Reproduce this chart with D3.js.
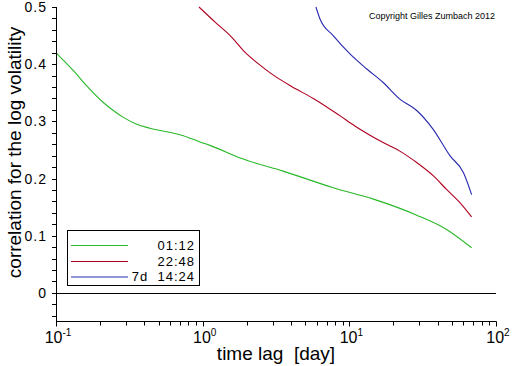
<!DOCTYPE html>
<html><head><meta charset="utf-8">
<script src="https://cdn.jsdelivr.net/npm/d3@7"></script>
<style>
html,body{margin:0;padding:0;background:#fff;}
svg{display:block;font-family:"Liberation Sans",Arial,sans-serif;}
</style></head>
<body>
<svg id="c" width="512" height="366"></svg>
<script>
// Data
const seriesNames = ["01:12", "22:48", "7d  14:24"];
const seriesColors = ["#28b828", "#b00020", "#2828b0"];

const greenLag  = [0.1, 0.131, 0.162, 0.21, 0.246, 0.288, 0.355, 0.437, 0.738, 0.96, 1.12, 1.89, 3.54, 7.76, 14.6, 28.8, 46, 68.2];
const greenCorr = [0.420, 0.389, 0.362, 0.333, 0.319, 0.307, 0.295, 0.288, 0.275, 0.264, 0.258, 0.234, 0.213, 0.184, 0.164, 0.136, 0.111, 0.079];

const redLag  = [0.944, 1.21, 1.58, 1.94, 2.39, 2.95, 4.04, 5.68, 8.6, 10.9, 17.0, 22.1, 28.8, 37.3, 46, 56.7, 68.2];
const redCorr = [0.500, 0.474, 0.447, 0.421, 0.401, 0.383, 0.361, 0.340, 0.310, 0.292, 0.263, 0.248, 0.228, 0.205, 0.181, 0.158, 0.133];

const blueLag  = [5.92, 6.31, 7.76, 10.1, 13.1, 17.0, 22.1, 28.8, 37.3, 48.5, 59.8, 68.2];
const blueCorr = [0.500, 0.479, 0.450, 0.418, 0.392, 0.368, 0.339, 0.319, 0.286, 0.240, 0.211, 0.172];

const yTickLabels = ["0", "0.1", "0.2", "0.3", "0.4", "0.5"];
const xTickExp = ["-1", "0", "1", "2"];

const svg = d3.select("#c");
const x = d3.scaleLog().domain([0.1, 100]).range([56, 496]);
const y = d3.scaleLinear().domain([-0.05, 0.5]).range([321.5, 7]);

const series = [
  {lag: greenLag, corr: greenCorr},
  {lag: redLag, corr: redCorr},
  {lag: blueLag, corr: blueCorr}
];

// zero line
svg.append("line").attr("x1", x(0.1)).attr("x2", x(100))
  .attr("y1", Math.round(y(0)) + 0.5).attr("y2", Math.round(y(0)) + 0.5)
  .attr("stroke", "#000").attr("stroke-width", 1);

// curves
const line = d3.line().x(d => x(d[0])).y(d => y(d[1])).curve(d3.curveMonotoneX);
series.forEach((s, i) => {
  const pts = s.lag.map((l, j) => [l, s.corr[j]]);
  svg.append("path").attr("d", line(pts)).attr("fill", "none")
    .attr("stroke", seriesColors[i]).attr("stroke-width", 1.1);
});

// Y axis
const yTicks = d3.range(-0.04, 0.5001, 0.02);
const yAx = svg.append("g");
yAx.append("line").attr("x1", 56.5).attr("x2", 56.5).attr("y1", y(0.5)).attr("y2", 325)
  .attr("stroke", "#000");
yAx.selectAll(".yt").data(yTicks).enter().append("line")
  .attr("x1", 52).attr("x2", 56.5)
  .attr("y1", d => Math.round(y(d)) + 0.5).attr("y2", d => Math.round(y(d)) + 0.5)
  .attr("stroke", "#000");
yAx.selectAll(".yl").data(yTickLabels).enter().append("text")
  .attr("x", 47).attr("y", d => y(+d)).attr("dy", "0.36em")
  .attr("text-anchor", "end").attr("font-size", 14).attr("letter-spacing", 1)
  .attr("fill", "#000").text(d => d);

// X axis
const xAx = svg.append("g");
const xAxisY = 321.5;
xAx.append("line").attr("x1", 56).attr("x2", 496.5).attr("y1", xAxisY).attr("y2", xAxisY)
  .attr("stroke", "#000");
const xMinor = [];
[0.1, 1, 10].forEach(b => { for (let k = 2; k <= 9; k++) xMinor.push(b * k); });
xAx.selectAll(".xm").data(xMinor).enter().append("line")
  .attr("x1", d => Math.round(x(d)) + 0.5).attr("x2", d => Math.round(x(d)) + 0.5)
  .attr("y1", xAxisY).attr("y2", xAxisY + 4).attr("stroke", "#000");
xAx.selectAll(".xM").data(xTickExp).enter().append("line")
  .attr("x1", d => Math.round(x(Math.pow(10, +d))) + 0.5).attr("x2", d => Math.round(x(Math.pow(10, +d))) + 0.5)
  .attr("y1", xAxisY).attr("y2", xAxisY + 5).attr("stroke", "#000");
xAx.selectAll(".xl").data(xTickExp).enter().append("text")
  .attr("x", d => x(Math.pow(10, +d)) + 2).attr("y", 343)
  .attr("text-anchor", "middle").attr("font-size", 16).attr("fill", "#000")
  .each(function(d) {
    const t = d3.select(this);
    t.append("tspan").text("10");
    t.append("tspan").attr("dy", -7).attr("font-size", 10).text(d);
  });

// axis titles
svg.append("text").attr("x", 276).attr("y", 360).attr("text-anchor", "middle")
  .attr("font-size", 19).attr("fill", "#000").style("white-space", "pre").text("time lag  [day]");
svg.append("text").attr("transform", "translate(21,152.5) rotate(-90)")
  .attr("text-anchor", "middle").attr("font-size", 19).attr("fill", "#000")
  .text("correlation for the log volatility");

// copyright
svg.append("text").attr("x", 369).attr("y", 19).attr("font-size", 9).attr("fill", "#000")
  .text("Copyright Gilles Zumbach 2012");

// legend
const lg = svg.append("g");
lg.append("rect").attr("x", 67.5).attr("y", 230.5).attr("width", 132).attr("height", 55)
  .attr("fill", "#fff").attr("stroke", "#000");
const legY = [245, 261, 276.5];
seriesNames.forEach((n, i) => {
  lg.append("line").attr("x1", 71).attr("x2", 128).attr("y1", legY[i] + 0.5).attr("y2", legY[i] + 0.5)
    .attr("stroke", seriesColors[i]).attr("stroke-width", 1);
  lg.append("text").attr("x", 195).attr("y", legY[i] + 4.5).attr("text-anchor", "end")
    .attr("font-size", 13).attr("letter-spacing", 1).style("white-space", "pre")
    .attr("fill", "#000").text(n);
});
</script>
</body></html>
